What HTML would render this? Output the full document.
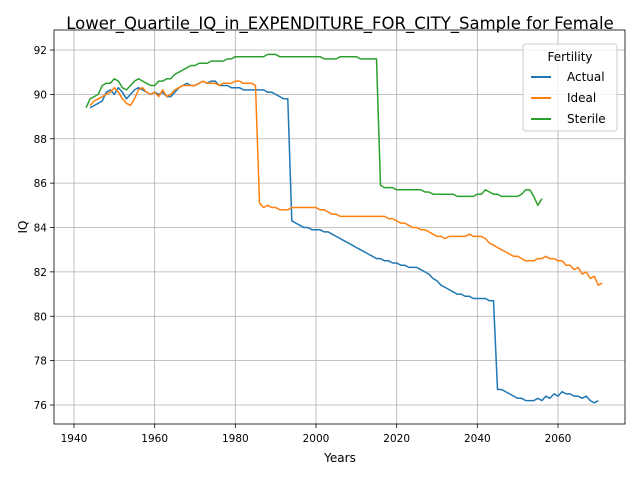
<!DOCTYPE html>
<html><head><meta charset="utf-8"><style>
body{margin:0;background:#fff;font-family:"Liberation Sans","DejaVu Sans",sans-serif}
</style></head><body>
<svg id="chart" width="640" height="480" xmlns="http://www.w3.org/2000/svg" font-family="DejaVu Sans, Liberation Sans, sans-serif">
<rect width="640" height="480" fill="#fff"/>
<text x="340" y="29" text-anchor="middle" font-size="16.5">Lower_Quartile_IQ_in_EXPENDITURE_FOR_CITY_Sample for Female</text>
<g id="grid"></g><g id="series"></g><g id="axes"></g>
<text x="340" y="462" text-anchor="middle" font-size="12">Years</text>
<text x="27" y="227" text-anchor="middle" font-size="12" transform="rotate(-90 27 227)">IQ</text>
<g>
<rect x="523" y="44" width="94" height="87" rx="3" fill="#fff" fill-opacity="0.8" stroke="#ccc"/>
<text x="570" y="61" text-anchor="middle" font-size="12">Fertility</text>
<line x1="531" y1="77" x2="551" y2="77" stroke="#1f77b4" stroke-width="2"/><text x="567" y="81" font-size="12">Actual</text>
<line x1="531" y1="98" x2="551" y2="98" stroke="#ff7f0e" stroke-width="2"/><text x="567" y="102" font-size="12">Ideal</text>
<line x1="531" y1="119" x2="551" y2="119" stroke="#2ca02c" stroke-width="2"/><text x="567" y="123" font-size="12">Sterile</text>
</g>
</svg>
<script>
const xTicks=[1940,1960,1980,2000,2020,2040,2060];
const yTicks=[76,78,80,82,84,86,88,90,92];
const actualStart=1944;
const actualValues=[89.4,89.5,89.6,89.7,90.1,90.2,90.0,90.3,90.1,89.8,90.0,90.2,90.3,90.2,90.1,90.0,90.1,90.0,90.1,89.9,89.9,90.1,90.3,90.4,90.5,90.4,90.4,90.5,90.6,90.5,90.6,90.6,90.4,90.4,90.4,90.3,90.3,90.3,90.2,90.2,90.2,90.2,90.2,90.2,90.1,90.1,90.0,89.9,89.8,89.8,84.3,84.2,84.1,84.0,84.0,83.9,83.9,83.9,83.8,83.8,83.7,83.6,83.5,83.4,83.3,83.2,83.1,83.0,82.9,82.8,82.7,82.6,82.6,82.5,82.5,82.4,82.4,82.3,82.3,82.2,82.2,82.2,82.1,82.0,81.9,81.7,81.6,81.4,81.3,81.2,81.1,81.0,81.0,80.9,80.9,80.8,80.8,80.8,80.8,80.7,80.7,76.7,76.7,76.6,76.5,76.4,76.3,76.3,76.2,76.2,76.2,76.3,76.2,76.4,76.3,76.5,76.4,76.6,76.5,76.5,76.4,76.4,76.3,76.4,76.2,76.1,76.2];
const idealStart=1944;
const idealValues=[89.5,89.7,89.8,89.9,90.0,90.1,90.3,90.1,89.8,89.6,89.5,89.8,90.2,90.3,90.1,90.0,90.1,89.9,90.2,89.9,90.0,90.2,90.3,90.4,90.4,90.4,90.4,90.5,90.6,90.5,90.5,90.5,90.4,90.5,90.5,90.5,90.6,90.6,90.5,90.5,90.5,90.4,85.1,84.9,85.0,84.9,84.9,84.8,84.8,84.8,84.9,84.9,84.9,84.9,84.9,84.9,84.9,84.8,84.8,84.7,84.6,84.6,84.5,84.5,84.5,84.5,84.5,84.5,84.5,84.5,84.5,84.5,84.5,84.5,84.4,84.4,84.3,84.2,84.2,84.1,84.0,84.0,83.9,83.9,83.8,83.7,83.6,83.6,83.5,83.6,83.6,83.6,83.6,83.6,83.7,83.6,83.6,83.6,83.5,83.3,83.2,83.1,83.0,82.9,82.8,82.7,82.7,82.6,82.5,82.5,82.5,82.6,82.6,82.7,82.6,82.6,82.5,82.5,82.3,82.3,82.1,82.2,81.9,82.0,81.7,81.8,81.4,81.5];
const sterileStart=1943;
const sterileValues=[89.4,89.8,89.9,90.0,90.4,90.5,90.5,90.7,90.6,90.3,90.2,90.4,90.6,90.7,90.6,90.5,90.4,90.4,90.6,90.6,90.7,90.7,90.9,91.0,91.1,91.2,91.3,91.3,91.4,91.4,91.4,91.5,91.5,91.5,91.5,91.6,91.6,91.7,91.7,91.7,91.7,91.7,91.7,91.7,91.7,91.8,91.8,91.8,91.7,91.7,91.7,91.7,91.7,91.7,91.7,91.7,91.7,91.7,91.7,91.6,91.6,91.6,91.6,91.7,91.7,91.7,91.7,91.7,91.6,91.6,91.6,91.6,91.6,85.9,85.8,85.8,85.8,85.7,85.7,85.7,85.7,85.7,85.7,85.7,85.6,85.6,85.5,85.5,85.5,85.5,85.5,85.5,85.4,85.4,85.4,85.4,85.4,85.5,85.5,85.7,85.6,85.5,85.5,85.4,85.4,85.4,85.4,85.4,85.5,85.7,85.7,85.4,85.0,85.3];
const L=54,R=625,T=30,B=424;
const X=v=>74+(v-1940)*(484/120);
const Y=v=>50+(92-v)*(355/16);
const NS="http://www.w3.org/2000/svg";
function mk(tag,attrs,parent){const e=document.createElementNS(NS,tag);for(const k in attrs)e.setAttribute(k,attrs[k]);parent.appendChild(e);return e;}
const grid=document.getElementById('grid'),axes=document.getElementById('axes'),ser=document.getElementById('series');
xTicks.forEach(t=>{
 const g=mk('line',{x1:X(t),x2:X(t),y1:T,y2:B,stroke:'#b0b0b0','stroke-width':0.8},grid);
 
 
 mk('line',{x1:X(t),x2:X(t),y1:B,y2:B+4,stroke:'#000','stroke-width':0.8},axes);
 const tx=mk('text',{x:X(t),y:B+18,'text-anchor':'middle','font-size':10.5},axes);tx.textContent=t;
 
 
});
yTicks.forEach(t=>{
 const g=mk('line',{x1:L,x2:R,y1:Y(t),y2:Y(t),stroke:'#b0b0b0','stroke-width':0.8},grid);
 
 
 mk('line',{x1:L-4,x2:L,y1:Y(t),y2:Y(t),stroke:'#000','stroke-width':0.8},axes);
 const tx=mk('text',{x:L-7,y:Y(t)+4,'text-anchor':'end','font-size':10.5},axes);tx.textContent=t;
 
 
});
const frame=mk('rect',{x:L,y:T,width:R-L,height:B-T,fill:'none',stroke:'#000','stroke-width':0.8},axes);


[[actualStart,actualValues,'#1f77b4','actual'],[idealStart,idealValues,'#ff7f0e','ideal'],[sterileStart,sterileValues,'#2ca02c','sterile']].forEach(([s,vals,c,n])=>{
 const pts=vals.map((v,i)=>X(s+i).toFixed(1)+','+Y(v).toFixed(1)).join(' ');
 const p=mk('polyline',{points:pts,fill:'none',stroke:c,'stroke-width':1.5,'stroke-linejoin':'round'},ser);
 
 
});
</script>
</body></html>
